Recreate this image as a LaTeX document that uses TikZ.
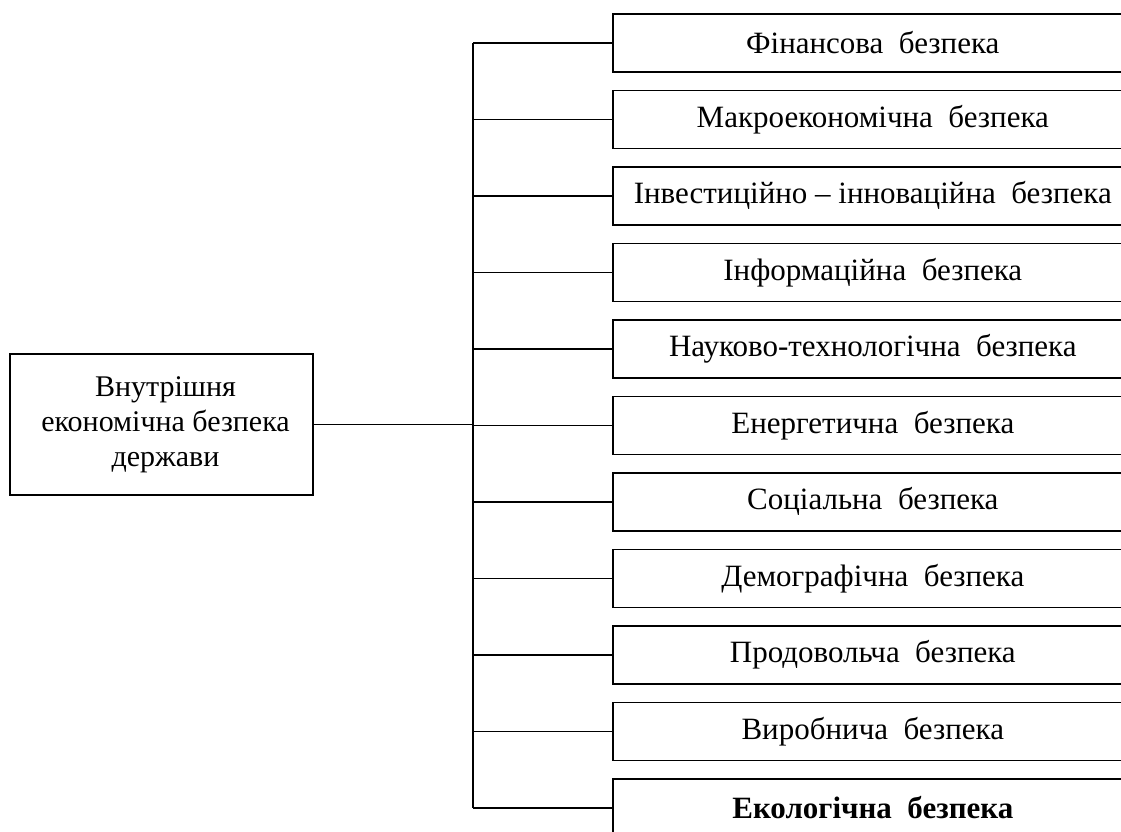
\documentclass[tikz,border=0pt]{standalone}
\usepackage{fontspec}
\setmainfont{Liberation Serif}
\begin{document}
\begin{tikzpicture}[x=1pt,y=-1pt,
  line width=1.6pt,
  sub/.style={draw, minimum width=520pt, minimum height=58pt, inner sep=0pt, anchor=north west, font=\fontsize{31}{35}\selectfont},
  mainbox/.style={draw, minimum width=303pt, minimum height=141pt, inner sep=0pt, align=center, font=\fontsize{30}{35}\selectfont}]
\useasboundingbox (0,0) rectangle (1121,831);
\clip (0,0) rectangle (1121,831);
\node[mainbox] (m) at (161.5,424.5) {\hspace*{8pt}Внутрішня\\\hspace*{8pt}економічна безпека\\\hspace*{8pt}держави};
\node[sub] (b1) at (612,13) {Фінансова\ \ безпека};
\node[sub] (b2) at (612,89.5) {Макроекономічна\ \ безпека};
\node[sub] (b3) at (612,166) {Інвестиційно – інноваційна\ \ безпека};
\node[sub] (b4) at (612,242.5) {Інформаційна\ \ безпека};
\node[sub] (b5) at (612,319) {Науково-технологічна\ \ безпека};
\node[sub] (b6) at (612,395.5) {Енергетична\ \ безпека};
\node[sub] (b7) at (612,472) {Соціальна\ \ безпека};
\node[sub] (b8) at (612,548.5) {Демографічна\ \ безпека};
\node[sub] (b9) at (612,625) {Продовольча\ \ безпека};
\node[sub] (b10) at (612,701.5) {Виробнича\ \ безпека};
\node[sub] (b11) at (612,778) {\bfseries Екологічна\ \ безпека};
\coordinate (t1) at (473,0 |- b1.west);
\coordinate (t11) at (473,0 |- b11.west);
\draw (t1) -- (t11);
\foreach \i in {1,...,11}{
  \draw (473,0 |- b\i.west) -- (b\i.west);
}
\draw (m.east) -- (473,0 |- m.east);
\end{tikzpicture}
\end{document}
